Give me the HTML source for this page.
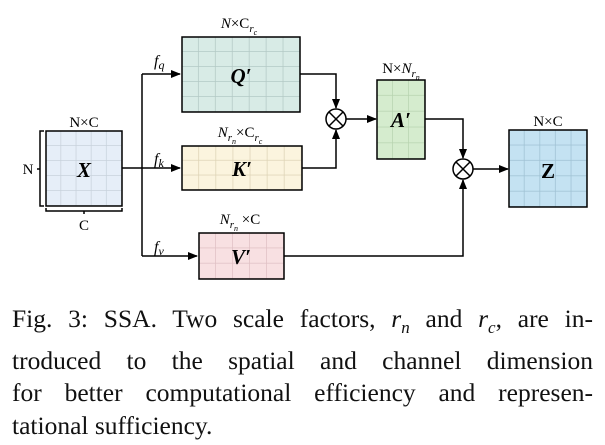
<!DOCTYPE html>
<html><head><style>
body{margin:0;background:#fff;width:605px;height:445px;overflow:hidden;position:relative}
.cap{position:absolute;left:12px;width:581px;top:303px;font-family:"Liberation Serif",serif;font-size:25.5px;line-height:32.5px;text-align:justify;color:#111}
.cap .l{display:block;text-align-last:justify;white-space:nowrap}
</style></head><body>
<svg width="605" height="300" style="position:absolute;left:0;top:0" font-family="Liberation Serif, serif">
<defs>
<marker id="a" markerWidth="10" markerHeight="8" refX="9" refY="4" orient="auto" markerUnits="userSpaceOnUse"><path d="M0,0L10,4L0,8z" fill="#000"/></marker>
<pattern id="g1" width="15.2" height="15" patternUnits="userSpaceOnUse" x="46" y="131"><path d="M15.2,0V15M0,15H15.2" stroke="#c8d2dc" stroke-width="1.5" fill="none"/></pattern>
<pattern id="gq" width="16.9" height="15" patternUnits="userSpaceOnUse" x="182" y="37"><path d="M16.9,0V15M0,15H16.9" stroke="#b3c9c5" stroke-width="1.5" fill="none"/></pattern>
<pattern id="gk" width="17.1" height="14.7" patternUnits="userSpaceOnUse" x="182" y="146"><path d="M17.1,0V14.7M0,14.7H17.1" stroke="#ddd3b5" stroke-width="1.5" fill="none"/></pattern>
<pattern id="gv" width="17" height="15.3" patternUnits="userSpaceOnUse" x="199" y="233"><path d="M17,0V15.3M0,15.3H17" stroke="#e0c0c4" stroke-width="1.5" fill="none"/></pattern>
<pattern id="ga" width="16" height="15.8" patternUnits="userSpaceOnUse" x="377" y="80"><path d="M16,0V15.8M0,15.8H16" stroke="#b8d4b0" stroke-width="1.5" fill="none"/></pattern>
<pattern id="gz" width="15.6" height="15.4" patternUnits="userSpaceOnUse" x="509" y="130"><path d="M15.6,0V15.4M0,15.4H15.6" stroke="#9fc1d3" stroke-width="1.5" fill="none"/></pattern>
</defs>
<g stroke="#000" stroke-width="1.5" fill="none">
<path d="M122,168H180" marker-end="url(#a)"/>
<path d="M142,74V256"/>
<path d="M142,74H180" marker-end="url(#a)"/>
<path d="M142,256H197" marker-end="url(#a)"/>
<path d="M300,74H336V108" marker-end="url(#a)"/>
<path d="M302,168H336V130" marker-end="url(#a)"/>
<path d="M346,119H376" marker-end="url(#a)"/>
<path d="M425,119H463V158" marker-end="url(#a)"/>
<path d="M284,256H463V180" marker-end="url(#a)"/>
<path d="M473,169H508" marker-end="url(#a)"/>
<circle cx="336" cy="119" r="10"/><path d="M329,112L343,126M343,112L329,126"/>
<circle cx="463" cy="169" r="10"/><path d="M456,162L470,176M470,162L456,176"/>
<path d="M44,131H40V206H44M40,169H37"/>
<path d="M46,208V211H122V208M84,211V214"/>
</g>
<rect x="46" y="131" width="76" height="75" fill="#e6eef8"/><rect x="46" y="131" width="76" height="75" fill="url(#g1)" stroke="#000" stroke-width="1.5"/>
<rect x="182" y="37" width="118" height="75" fill="#d8ebe6"/><rect x="182" y="37" width="118" height="75" fill="url(#gq)" stroke="#000" stroke-width="1.5"/>
<rect x="182" y="146" width="120" height="44" fill="#fbf4de"/><rect x="182" y="146" width="120" height="44" fill="url(#gk)" stroke="#000" stroke-width="1.5"/>
<rect x="199" y="233" width="85" height="46" fill="#f8e0e2"/><rect x="199" y="233" width="85" height="46" fill="url(#gv)" stroke="#000" stroke-width="1.5"/>
<rect x="377" y="80" width="48" height="79" fill="#d5ecce"/><rect x="377" y="80" width="48" height="79" fill="url(#ga)" stroke="#000" stroke-width="1.5"/>
<rect x="509" y="130" width="78" height="77" fill="#c4e2f2"/><rect x="509" y="130" width="78" height="77" fill="url(#gz)" stroke="#000" stroke-width="1.5"/>
<g font-weight="bold" font-style="italic" font-size="21" text-anchor="middle">
<text x="84" y="177">X</text><text x="241" y="83">Q′</text><text x="242" y="176">K′</text>
<text x="241" y="264">V′</text><text x="401" y="127">A′</text>
<text x="548" y="178" font-style="normal">Z</text></g>
<g font-size="15" text-anchor="middle">
<text x="84" y="127">N×C</text><text x="548" y="126">N×C</text>
<text x="84" y="230">C</text><text x="28" y="174">N</text>
<text x="239" y="28"><tspan font-style="italic">N</tspan>×C<tspan font-style="italic" font-size="11" dy="4">r</tspan><tspan font-style="italic" font-size="8" dy="3">c</tspan></text>
<text x="240" y="137"><tspan font-style="italic">N</tspan><tspan font-style="italic" font-size="11" dy="4">r</tspan><tspan font-style="italic" font-size="8" dy="3">n</tspan><tspan dy="-7">×C</tspan><tspan font-style="italic" font-size="11" dy="4">r</tspan><tspan font-style="italic" font-size="8" dy="3">c</tspan></text>
<text x="240" y="224"><tspan font-style="italic">N</tspan><tspan font-style="italic" font-size="11" dy="4">r</tspan><tspan font-style="italic" font-size="8" dy="3">n</tspan><tspan dy="-7"> ×C</tspan></text>
<text x="401" y="73">N×<tspan font-style="italic">N</tspan><tspan font-style="italic" font-size="11" dy="4">r</tspan><tspan font-style="italic" font-size="8" dy="3">n</tspan></text>
</g>
<g font-size="16" font-style="italic">
<text x="154" y="66">f<tspan font-size="12" dy="3">q</tspan></text>
<text x="154" y="164">f<tspan font-size="12" dy="3">k</tspan></text>
<text x="154" y="252">f<tspan font-size="12" dy="3">v</tspan></text>
</g>
</svg>
<div class="cap"><span class="l">Fig. 3: SSA. Two scale factors, <i>r<sub style="font-size:17px">n</sub></i> and <i>r<sub style="font-size:17px">c</sub></i>, are in-</span><span class="l">troduced to the spatial and channel dimension</span><span class="l">for better computational efficiency and represen-</span><span style="display:block">tational sufficiency.</span></div>
</body></html>
